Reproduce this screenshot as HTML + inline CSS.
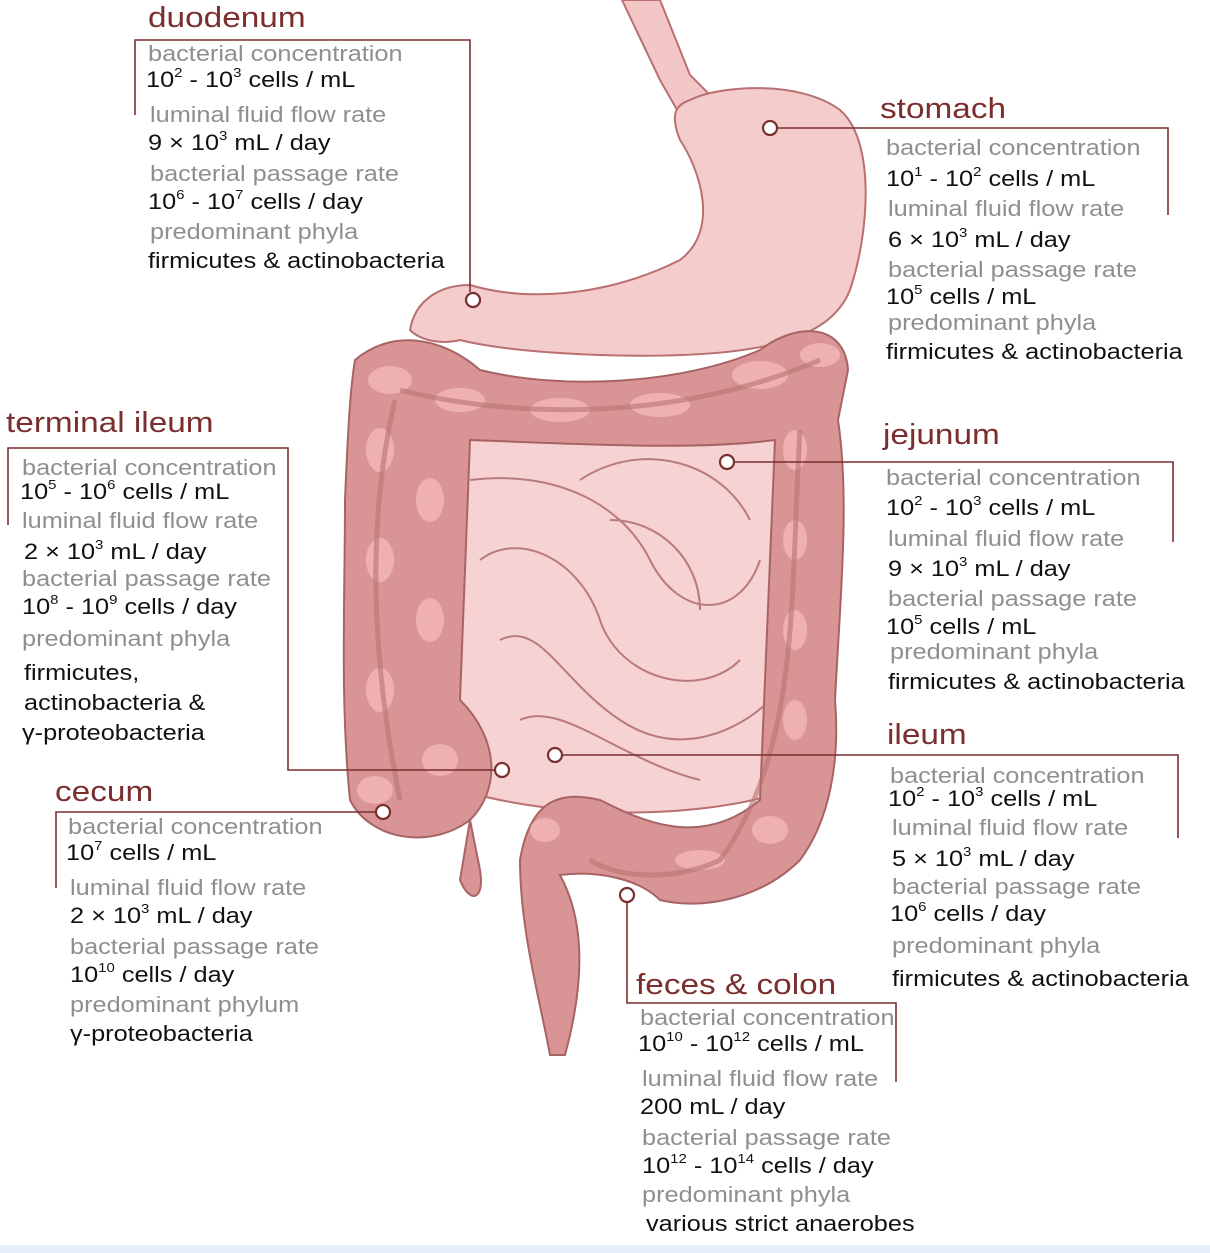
<!DOCTYPE html>
<html><head><meta charset="utf-8"><style>
body{margin:0;width:1210px;height:1253px;background:#fff;overflow:hidden;position:relative;font-family:"Liberation Sans","DejaVu Sans",sans-serif}
svg{position:absolute;left:0;top:0}
.t{position:absolute;white-space:nowrap;line-height:1;transform:scaleX(1.15);transform-origin:0 0}
.h{color:#7a2e2e;font-size:29px}
.g{color:#8f8f8f;font-size:22px}
.v{color:#111;font-size:22px}
sup{font-size:13px;vertical-align:top;position:relative;top:-3px}
</style></head><body>
<svg width="1210" height="1253" viewBox="0 0 1210 1253">
<rect x="0" y="1245" width="1210" height="8" fill="#e6f0fa"/>
<path d="M622,0 L660,0 L690,75 L715,100 L680,115 L660,80 Z" fill="#f4c7c7" stroke="#b87070" stroke-width="2"/>
<path d="M690,100 C720,85 800,80 840,110 C875,140 870,230 850,290 C830,340 760,360 600,355 C520,352 480,345 460,340 C440,345 420,340 410,330 C415,300 440,285 470,285 C520,300 600,300 680,260 C720,230 700,170 680,140 C670,115 675,105 690,100 Z" fill="#f5cccc" stroke="#b87070" stroke-width="2"/>
<path d="M455,430 L780,430 L790,790 C700,820 560,820 460,790 Z" fill="#f6d2d2" stroke="#b87070" stroke-width="2"/>
<g fill="none" stroke="#b87a7a" stroke-width="2">
<path d="M470,480 C550,470 620,500 650,560 C680,620 740,620 760,560"/>
<path d="M480,560 C520,530 580,560 600,620 C620,680 700,700 740,660"/>
<path d="M500,640 C540,620 560,680 620,720 C680,760 740,730 770,700"/>
<path d="M580,480 C640,440 720,460 750,520"/>
<path d="M520,720 C560,700 620,760 700,780"/>
<path d="M610,520 C660,520 700,560 700,610"/>
</g>
<g stroke="#a86464" stroke-width="2" fill="#d99595">
<path d="M355,360 C390,330 440,335 480,370 C560,390 680,385 760,350 C800,320 845,325 848,370 L838,420 C850,500 840,600 835,700 C840,760 830,820 800,860 C760,900 700,910 660,900 C640,880 600,870 560,875 C590,930 580,1000 565,1055 L550,1055 C540,1000 520,930 520,860 C530,800 560,790 600,800 C640,820 700,850 760,800 L775,440 C700,450 600,445 470,440 L460,700 C500,740 500,790 470,820 C430,850 370,840 350,800 C340,700 345,600 345,500 C348,430 350,390 355,360 Z"/>
<path d="M470,820 L480,870 C485,900 470,905 460,880 Z"/>
</g>
<g fill="#eeb0b0" stroke="none">
<ellipse cx="390" cy="380" rx="22" ry="14"/><ellipse cx="460" cy="400" rx="25" ry="12"/><ellipse cx="560" cy="410" rx="30" ry="12"/><ellipse cx="660" cy="405" rx="30" ry="12"/><ellipse cx="760" cy="375" rx="28" ry="14"/><ellipse cx="820" cy="355" rx="20" ry="12"/>
<ellipse cx="380" cy="450" rx="14" ry="22"/><ellipse cx="430" cy="500" rx="14" ry="22"/><ellipse cx="380" cy="560" rx="14" ry="22"/><ellipse cx="430" cy="620" rx="14" ry="22"/><ellipse cx="380" cy="690" rx="14" ry="22"/><ellipse cx="440" cy="760" rx="18" ry="16"/><ellipse cx="375" cy="790" rx="18" ry="14"/>
<ellipse cx="795" cy="450" rx="12" ry="20"/><ellipse cx="795" cy="540" rx="12" ry="20"/><ellipse cx="795" cy="630" rx="12" ry="20"/><ellipse cx="795" cy="720" rx="12" ry="20"/><ellipse cx="770" cy="830" rx="18" ry="14"/><ellipse cx="700" cy="860" rx="25" ry="10"/><ellipse cx="545" cy="830" rx="15" ry="12"/>
</g>
<g fill="none" stroke="#b87373" stroke-width="5" opacity="0.6">
<path d="M395,400 C360,550 380,700 400,800"/><path d="M400,390 C520,420 680,420 820,360"/><path d="M800,430 C790,600 800,750 720,860 C680,880 620,880 590,860"/>
</g>
<g fill="none" stroke="#7a2e2e" stroke-width="1.6">
<polyline points="135,115 135,40 470,40 470,292"/>
<polyline points="777,128 1168,128 1168,215"/>
<polyline points="8,525 8,448 288,448 288,770 494,770"/>
<polyline points="735,462 1173,462 1173,542"/>
<polyline points="563,755 1178,755 1178,838"/>
<polyline points="375,812 56,812 56,888"/>
<polyline points="627,903 627,1003 896,1003 896,1082"/>
</g>
<g fill="#fff" stroke="#7a2e2e" stroke-width="2.2">
<circle cx="473" cy="300" r="7"/><circle cx="770" cy="128" r="7"/><circle cx="727" cy="462" r="7"/><circle cx="502" cy="770" r="7"/><circle cx="555" cy="755" r="7"/><circle cx="383" cy="812" r="7"/><circle cx="627" cy="895" r="7"/>
</g>
</svg>

<div class="t h" style="left:148px;top:4px">duodenum</div>
<div class="t g" style="left:148px;top:43px">bacterial concentration</div>
<div class="t v" style="left:146px;top:69px">10<sup>2</sup> - 10<sup>3</sup> cells / mL</div>
<div class="t g" style="left:150px;top:104px">luminal fluid flow rate</div>
<div class="t v" style="left:148px;top:132px">9 × 10<sup>3</sup> mL / day</div>
<div class="t g" style="left:150px;top:163px">bacterial passage rate</div>
<div class="t v" style="left:148px;top:191px">10<sup>6</sup> - 10<sup>7</sup> cells / day</div>
<div class="t g" style="left:150px;top:221px">predominant phyla</div>
<div class="t v" style="left:148px;top:250px">firmicutes &amp; actinobacteria</div>

<div class="t h" style="left:880px;top:95px">stomach</div>
<div class="t g" style="left:886px;top:137px">bacterial concentration</div>
<div class="t v" style="left:886px;top:168px">10<sup>1</sup> - 10<sup>2</sup> cells / mL</div>
<div class="t g" style="left:888px;top:198px">luminal fluid flow rate</div>
<div class="t v" style="left:888px;top:229px">6 × 10<sup>3</sup> mL / day</div>
<div class="t g" style="left:888px;top:259px">bacterial passage rate</div>
<div class="t v" style="left:886px;top:286px">10<sup>5</sup> cells / mL</div>
<div class="t g" style="left:888px;top:312px">predominant phyla</div>
<div class="t v" style="left:886px;top:341px">firmicutes &amp; actinobacteria</div>

<div class="t h" style="left:6px;top:409px">terminal ileum</div>
<div class="t g" style="left:22px;top:457px">bacterial concentration</div>
<div class="t v" style="left:20px;top:481px">10<sup>5</sup> - 10<sup>6</sup> cells / mL</div>
<div class="t g" style="left:22px;top:510px">luminal fluid flow rate</div>
<div class="t v" style="left:24px;top:541px">2 × 10<sup>3</sup> mL / day</div>
<div class="t g" style="left:22px;top:568px">bacterial passage rate</div>
<div class="t v" style="left:22px;top:596px">10<sup>8</sup> - 10<sup>9</sup> cells / day</div>
<div class="t g" style="left:22px;top:628px">predominant phyla</div>
<div class="t v" style="left:24px;top:662px">firmicutes,</div>
<div class="t v" style="left:24px;top:692px">actinobacteria &amp;</div>
<div class="t v" style="left:22px;top:722px">γ-proteobacteria</div>

<div class="t h" style="left:883px;top:421px">jejunum</div>
<div class="t g" style="left:886px;top:467px">bacterial concentration</div>
<div class="t v" style="left:886px;top:497px">10<sup>2</sup> - 10<sup>3</sup> cells / mL</div>
<div class="t g" style="left:888px;top:528px">luminal fluid flow rate</div>
<div class="t v" style="left:888px;top:558px">9 × 10<sup>3</sup> mL / day</div>
<div class="t g" style="left:888px;top:588px">bacterial passage rate</div>
<div class="t v" style="left:886px;top:616px">10<sup>5</sup> cells / mL</div>
<div class="t g" style="left:890px;top:641px">predominant phyla</div>
<div class="t v" style="left:888px;top:671px">firmicutes &amp; actinobacteria</div>

<div class="t h" style="left:887px;top:721px">ileum</div>
<div class="t g" style="left:890px;top:765px">bacterial concentration</div>
<div class="t v" style="left:888px;top:788px">10<sup>2</sup> - 10<sup>3</sup> cells / mL</div>
<div class="t g" style="left:892px;top:817px">luminal fluid flow rate</div>
<div class="t v" style="left:892px;top:848px">5 × 10<sup>3</sup> mL / day</div>
<div class="t g" style="left:892px;top:876px">bacterial passage rate</div>
<div class="t v" style="left:890px;top:903px">10<sup>6</sup> cells / day</div>
<div class="t g" style="left:892px;top:935px">predominant phyla</div>
<div class="t v" style="left:892px;top:968px">firmicutes &amp; actinobacteria</div>

<div class="t h" style="left:55px;top:778px">cecum</div>
<div class="t g" style="left:68px;top:816px">bacterial concentration</div>
<div class="t v" style="left:66px;top:842px">10<sup>7</sup> cells / mL</div>
<div class="t g" style="left:70px;top:877px">luminal fluid flow rate</div>
<div class="t v" style="left:70px;top:905px">2 × 10<sup>3</sup> mL / day</div>
<div class="t g" style="left:70px;top:936px">bacterial passage rate</div>
<div class="t v" style="left:70px;top:964px">10<sup>10</sup> cells / day</div>
<div class="t g" style="left:70px;top:994px">predominant phylum</div>
<div class="t v" style="left:70px;top:1023px">γ-proteobacteria</div>

<div class="t h" style="left:636px;top:971px">feces &amp; colon</div>
<div class="t g" style="left:640px;top:1007px">bacterial concentration</div>
<div class="t v" style="left:638px;top:1033px">10<sup>10</sup> - 10<sup>12</sup> cells / mL</div>
<div class="t g" style="left:642px;top:1068px">luminal fluid flow rate</div>
<div class="t v" style="left:640px;top:1096px">200 mL / day</div>
<div class="t g" style="left:642px;top:1127px">bacterial passage rate</div>
<div class="t v" style="left:642px;top:1155px">10<sup>12</sup> - 10<sup>14</sup> cells / day</div>
<div class="t g" style="left:642px;top:1184px">predominant phyla</div>
<div class="t v" style="left:646px;top:1213px">various strict anaerobes</div>
</body></html>
